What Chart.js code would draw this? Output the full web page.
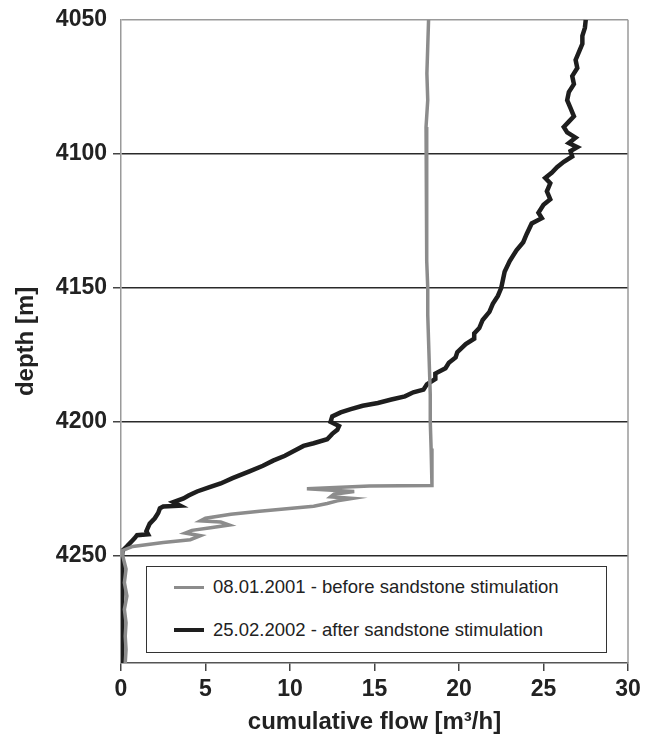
<!DOCTYPE html>
<html>
<head>
<meta charset="utf-8">
<script src="https://cdn.jsdelivr.net/npm/chart.js@4/dist/chart.umd.min.js"></script>
<style>
  body { margin: 0; background: #fff; }
  #wrap { position: relative; width: 652px; height: 739px; }
  #legend {
    position: absolute; left: 146px; top: 566px; width: 459px; height: 85px;
    border: 1.5px solid #333; background: #fff;
    font-family: "Liberation Sans", Arial, sans-serif; font-size: 18.5px; color: #222;
  }
  .row { position: absolute; left: 0; height: 22px; line-height: 22px; white-space: nowrap; }
  .sw { position: absolute; left: 27px; width: 30px; }
  .lbl { position: absolute; left: 66px; top: 0; }
</style>
</head>
<body>
<div id="wrap">
  <canvas id="flow"></canvas>
  <div id="legend">
    <div class="row" style="top:9px"><span class="sw" style="top:10px;height:3px;background:#8c8c8c"></span><span class="lbl">08.01.2001 - before sandstone stimulation</span></div>
    <div class="row" style="top:52px"><span class="sw" style="top:9px;height:4px;background:#1e1e1e"></span><span class="lbl">25.02.2002 - after sandstone stimulation</span></div>
  </div>
</div>
<script>
// depth ticks on the left axis
const depthTicks = [4050, 4100, 4150, 4200, 4250];

// 08.01.2001 - before sandstone stimulation
const beforeDepth = [4050, 4060, 4070, 4080, 4090, 4100, 4110, 4120, 4130, 4140, 4150, 4160, 4170, 4180, 4190, 4200, 4210, 4220, 4223.8,
  4224, 4225, 4225.5, 4226, 4227, 4228, 4228.6, 4229.5, 4230.5, 4231.5, 4232, 4233.4, 4234.5, 4236, 4237, 4237.4, 4238.5, 4239.5,
  4240.5, 4241.5, 4242.5, 4244, 4245, 4246.5, 4248, 4250, 4255, 4260, 4265, 4270, 4275, 4280, 4285, 4290];
const beforeFlow = [18.2, 18.15, 18.1, 18.15, 18.05, 18.1, 18.05, 18.1, 18.1, 18.1, 18.15, 18.15, 18.2, 18.25, 18.3, 18.3, 18.35, 18.4, 18.4,
  14.7, 11.0, 12.5, 13.8, 12.6, 12.4, 13.7, 12.8, 12.2, 11.4, 10.6, 8.2, 6.5, 5.0, 4.7, 5.9, 6.4, 5.3,
  4.2, 3.8, 4.7, 4.1, 2.5, 0.7, 0.1, 0.1, 0.3, 0.2, 0.35, 0.2, 0.3, 0.25, 0.3, 0.25];

// 25.02.2002 - after sandstone stimulation
const afterDepth = [4050, 4053, 4056, 4059, 4062, 4065, 4068, 4071, 4074, 4077, 4080, 4083, 4086, 4088, 4090, 4092, 4094, 4096, 4097.5, 4099,
  4101, 4103, 4105, 4107, 4109, 4111, 4114, 4117, 4119, 4122, 4124, 4126, 4130, 4133, 4136, 4140, 4144, 4147, 4150, 4153, 4156, 4159,
  4162, 4165, 4167, 4169, 4171, 4174, 4176, 4178, 4180, 4182, 4184, 4186, 4188, 4189, 4190.5, 4191.7, 4193, 4194, 4195.3, 4196.5,
  4198, 4200, 4201.6, 4203, 4204.5, 4206.5, 4208, 4209, 4211, 4212.7, 4214.5, 4216.4, 4218.5, 4221, 4223, 4224.5, 4226, 4227.5,
  4228.6, 4230, 4231.3, 4231.6, 4232.3, 4234, 4236, 4238, 4240.8, 4242, 4242.3, 4243.5, 4244.5, 4246.5, 4248, 4250, 4260, 4270, 4280, 4290];
const afterFlow = [27.5, 27.45, 27.3, 27.3, 27.1, 26.9, 27.0, 26.7, 26.8, 26.5, 26.4, 26.6, 26.8, 26.5, 26.2, 26.4, 26.9, 26.5, 27.0, 26.6,
  26.7, 26.2, 25.8, 25.5, 25.1, 25.4, 25.2, 25.4, 25.0, 24.7, 24.9, 24.3, 24.0, 23.8, 23.4, 23.0, 22.7, 22.6, 22.5, 22.3, 22.0, 21.8,
  21.4, 21.2, 20.9, 20.9, 20.4, 19.9, 19.8, 19.4, 19.2, 18.6, 18.6, 18.1, 17.9, 17.3, 16.8, 16.0, 15.2, 14.3, 13.6, 13.0,
  12.5, 12.4, 12.9, 12.8, 12.5, 12.2, 11.4, 10.8, 10.2, 9.7, 9.0, 8.4, 7.6, 6.6, 5.9, 5.2, 4.5, 4.0,
  3.7, 3.1, 3.5, 2.5, 2.3, 2.2, 2.0, 1.7, 1.5, 1.6, 0.95, 0.8, 0.65, 0.35, 0.1, 0.05, 0.1, 0.05, 0.1, 0.05];

function pairs(flow, depth) {
  return flow.map((v, i) => ({ x: v, y: depth[i] }));
}

const frame = {
  id: 'frame',
  afterDraw(chart) {
    const a = chart.chartArea, c = chart.ctx;
    c.save();
    c.strokeStyle = '#9a9a9a';
    c.lineWidth = 1.5;
    c.beginPath();
    c.moveTo(a.right, a.top);
    c.lineTo(a.right, a.bottom);
    c.stroke();
    c.restore();
  }
};

const tickFont = { family: '"Liberation Sans", Arial, sans-serif', size: 23, weight: 'bold' };
const titleFont = { family: '"Liberation Sans", Arial, sans-serif', size: 24, weight: 'bold' };

new Chart(document.getElementById('flow'), {
  type: 'scatter',
  data: {
    datasets: [
      { label: '08.01.2001 - before sandstone stimulation', data: pairs(beforeFlow, beforeDepth),
        showLine: true, borderColor: '#8c8c8c', borderWidth: 3.5, pointRadius: 0, tension: 0 },
      { label: '25.02.2002 - after sandstone stimulation', data: pairs(afterFlow, afterDepth),
        showLine: true, borderColor: '#1e1e1e', borderWidth: 4.5, pointRadius: 0, tension: 0 }
    ]
  },
  options: {
    responsive: true,
    maintainAspectRatio: false,
    animation: false,
    layout: { padding: { left: 0, top: 15, right: 24, bottom: 0 } },
    plugins: { legend: { display: false }, tooltip: { enabled: false } },
    scales: {
      x: {
        type: 'linear', min: 0, max: 30,
        ticks: { stepSize: 5, color: '#222', font: tickFont, padding: 5, callback: v => String(v) },
        grid: { drawOnChartArea: false, tickLength: 8, tickColor: '#444', lineWidth: 1.5 },
        border: { color: '#555', width: 1.5 },
        title: { display: true, text: 'cumulative flow [m³/h]', color: '#222', font: titleFont, padding: { top: 0, bottom: 2 } },
        afterFit(s) { s.height = 76; }
      },
      y: {
        type: 'linear', min: 4050, max: 4290, reverse: true,
        afterBuildTicks(s) { s.ticks = depthTicks.map(v => ({ value: v })); },
        ticks: { color: '#222', font: tickFont, padding: 6, callback: v => String(v) },
        grid: {
          color: c => c.tick && c.tick.value === 4050 ? '#9a9a9a' : '#2a2a2a',
          tickColor: c => c.tick && c.tick.value === 4050 ? 'rgba(0,0,0,0)' : '#444',
          lineWidth: 1.5, tickLength: 8
        },
        border: { color: '#9a9a9a', width: 1.5 },
        title: { display: true, text: 'depth [m]', color: '#222', font: titleFont, padding: { top: 12, bottom: 0 } },
        afterFit(s) { s.width = 121; }
      }
    }
  },
  plugins: [frame]
});
</script>
</body>
</html>
